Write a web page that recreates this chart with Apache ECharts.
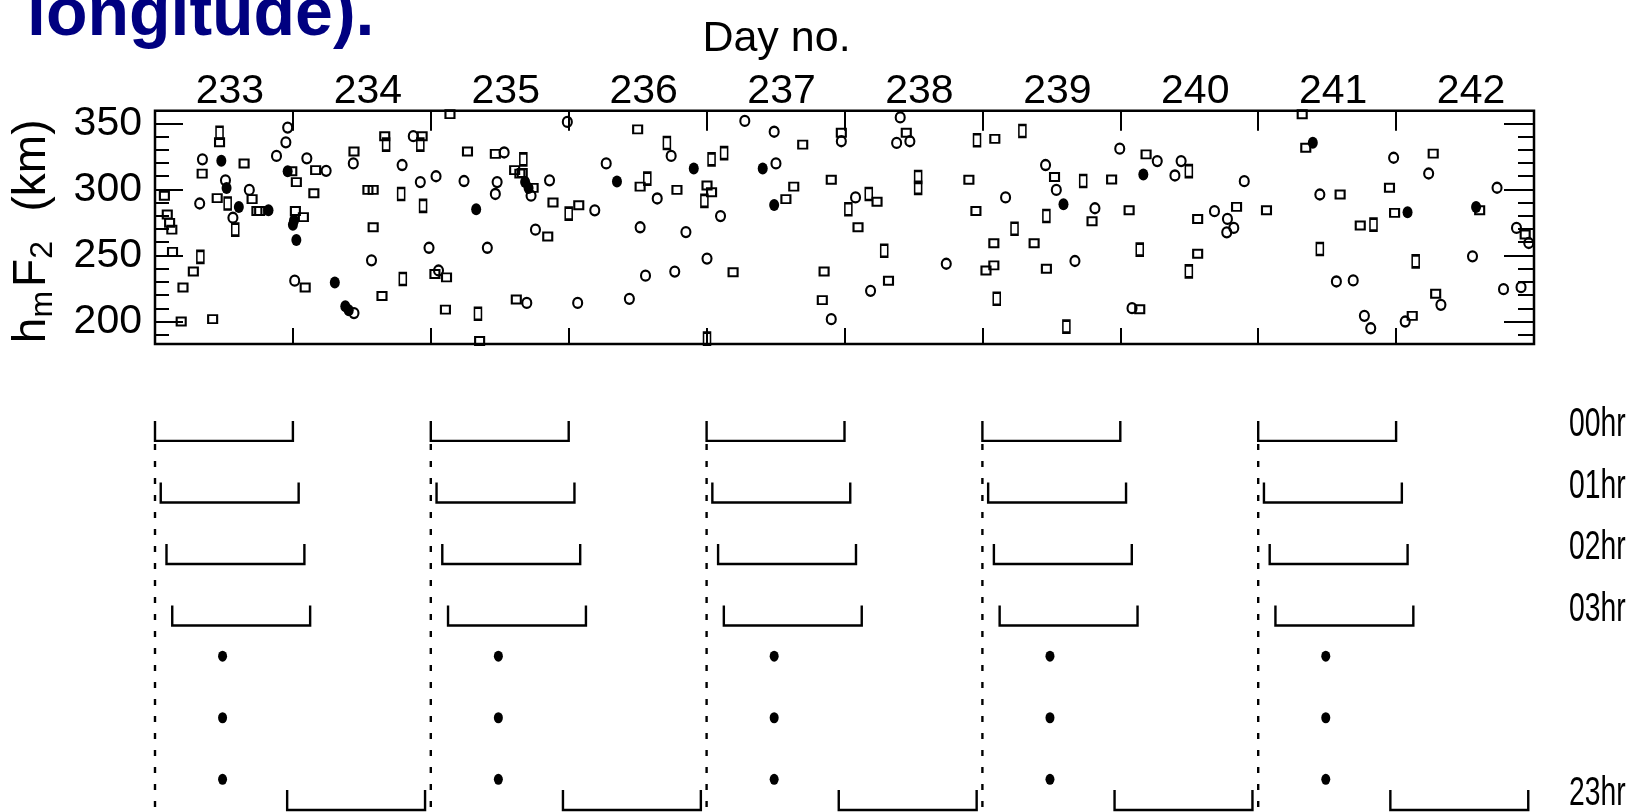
<!DOCTYPE html>
<html><head><meta charset="utf-8">
<script src="https://cdn.jsdelivr.net/npm/echarts@6/dist/echarts.min.js"></script>
<style>html,body{margin:0;padding:0;background:#fff}#c{width:1631px;height:812px}</style>
</head><body><div id="c"></div>
<script>
// ---- data ----
const dayLabels = ['233','234','235','236','237','238','239','240','241','242'];
const yMajor = [200, 250, 300, 350];
const yMinor = [190,200,210,220,230,240,250,260,270,280,290,300,310,320,330,340,350];

const hmSquares = [[233.068,295.2],[233.089,281.0],[233.106,274.6],[233.122,269.5],[233.127,252.7],[233.203,225.7],[233.278,237.8],[233.190,200.0],[233.418,201.8],[233.342,311.9],[233.451,293.4],[233.468,335.6],[233.646,319.6],[233.704,292.6],[233.739,283.6],[233.759,283.6],[233.992,313.7],[234.025,305.5],[234.152,297.0],[234.165,314.5],[234.018,283.6],[234.076,279.0],[234.089,225.7],[234.443,328.6],[234.544,299.6],[234.582,299.6],[234.582,271.3],[234.646,219.3],[234.666,340.2],[234.937,340.2],[235.030,236.0],[235.114,233.4],[235.106,209.0],[235.139,356.9],[235.266,328.6],[235.354,185.3],[235.468,326.8],[235.608,314.5],[235.646,311.9],[235.663,312.4],[235.742,301.1],[235.620,216.7],[235.848,264.3],[235.886,290.0],
[236.073,288.0],[236.500,345.4],[236.518,302.1],[236.785,299.6],[237.003,302.9],[237.036,297.8],[237.192,237.3],[237.575,292.6],[237.632,302.1],[237.697,333.8],[237.852,237.8],[237.839,216.2],[237.904,307.3],[237.977,342.8],[238.098,271.3],[238.236,290.6],[238.319,230.9],[238.448,342.8],[238.902,307.3],[238.953,283.6],[239.090,338.2],[239.083,259.2],[239.026,238.6],[239.083,242.5],[239.375,259.2],[239.523,309.3],[239.464,239.9],[239.795,275.9],
[239.937,307.5],[240.064,284.2],[240.187,326.5],[240.141,209.3],[240.561,277.6],[240.561,251.3],[240.843,286.7],[241.060,284.2],[241.319,356.8],[241.345,331.5],[241.594,296.1],[241.740,272.6],[241.952,301.2],[241.989,282.2],[242.117,204.3],[242.269,327.0],[242.287,221.0],[242.606,284.2],[242.936,265.8]];

const hmTall = [[233.329,248.9],[233.468,342.8],[233.527,289.3],[233.582,269.5],[234.676,333.8],[234.785,296.5],[234.797,232.2],[234.924,333.8],[234.944,287.5],[235.342,205.9],[235.671,322.7],
[236.000,281.6],[236.570,308.1],[236.712,335.1],[236.984,291.3],[237.036,322.7],[237.127,327.4],[237.003,187.1],[238.028,284.9],[238.176,296.5],[238.288,253.5],[238.534,309.3],[238.534,301.1],[238.961,337.1],[239.104,217.2],[239.233,270.2],[239.290,344.1],[239.464,279.8],[239.609,196.1],[239.731,306.3],
[240.141,254.4],[240.497,313.8],[240.497,237.9],[241.447,254.9],[241.836,273.3],[242.142,245.5]];

const hmRings = [[233.324,289.3],[233.344,322.7],[233.511,306.8],[233.565,278.5],[233.684,299.6],[233.881,325.3],[233.949,335.6],[233.962,346.7],[234.101,323.5],[234.241,314.0],[234.013,230.9],[234.443,206.4],[234.438,319.6],[234.570,246.3],[234.792,318.4],[234.873,340.2],[234.924,305.5],[234.987,255.8],[235.038,309.9],[235.056,238.6],[235.241,306.3],[235.410,255.8],[235.532,327.9],[235.481,305.5],[235.468,296.5],[235.727,295.2],[235.696,214.1],[235.759,269.5],[235.861,306.8],
[235.990,351.0],[236.065,214.1],[236.189,284.1],[236.272,319.6],[236.440,217.2],[236.518,271.3],[236.557,234.7],[236.642,293.1],[236.743,325.3],[236.769,237.8],[236.850,267.7],[237.003,247.6],[237.101,279.8],[237.277,351.8],[237.490,343.6],[237.503,319.6],[237.904,201.8],[237.977,336.4],[238.080,293.9],[238.189,223.2],[238.404,354.4],[238.378,335.1],[238.474,336.4],[238.738,243.7],[239.168,293.9],[239.458,318.4],[239.536,299.6],[239.671,245.8],[239.816,285.7],
[239.996,330.8],[240.268,321.4],[240.085,210.1],[240.396,310.5],[240.441,321.4],[240.683,283.5],[240.777,277.6],[240.772,267.5],[240.823,270.8],[240.899,306.2],[241.447,296.1],[241.567,230.3],[241.689,231.1],[241.770,204.3],[241.816,194.9],[241.982,323.9],[242.066,200.0],[242.236,312.0],[242.325,212.6],[242.554,249.3],[242.732,301.2],[242.779,224.5],[242.873,270.8],[242.962,259.4],[242.906,226.0]];

const hmFilled = [[233.481,321.7],[233.519,301.1],[233.608,286.7],[233.823,284.1],[233.962,313.7],[234.000,273.3],[234.008,276.4],[234.025,261.7],[234.304,229.6],[234.380,211.6],[234.405,208.5],[235.329,284.9],[235.684,305.5],[235.709,301.1],
[236.350,306.0],[236.907,315.8],[237.407,315.8],[237.490,288.2],[239.588,288.8],
[240.167,311.3],[241.396,335.3],[242.083,282.7],[242.580,286.7]];

// lower schematic: one-day windows shifted hour by hour
const windowStarts = [233, 235, 237, 239, 241];
const windowHours  = [0, 1, 2, 3, 23];
const windowRows   = [0, 1, 2, 3, 6];
const hourLabels   = ['00hr', '01hr', '02hr', '03hr', '23hr'];
const ellipsisRows = [3.5, 4.5, 5.5];
const ellipsisDayOffset = 0.49;
const guideBottomRow = 6.05;

// ---- build series data ----
const bracketData = [];
windowRows.forEach((r, i) => {
  windowStarts.forEach(d => {
    bracketData.push([d + windowHours[i] / 24, d + 1 + windowHours[i] / 24, r]);
  });
});
const guideData = windowStarts.map(d => [d, 0, guideBottomRow]);
const dotData = [];
ellipsisRows.forEach(r => windowStarts.forEach(d => dotData.push([d + ellipsisDayOffset, r])));
const hrLabelData = windowRows.map((r, i) => [243, r, i]);

const FONT = "'Liberation Sans', Arial, Helvetica, sans-serif";
const FS = 41;

const chart = echarts.init(document.getElementById('c'), null, { renderer: 'canvas' });
chart.setOption({
  animation: false,
  backgroundColor: '#fff',
  textStyle: { fontFamily: FONT },
  graphic: [{
    type: 'text', left: 27, top: -18,
    style: { text: 'longitude).', font: "bold 68px 'Liberation Sans', Arial, sans-serif", fill: '#000080' }
  }],
  grid: [
    { left: 155, right: 97, top: 110.7, bottom: 468, show: true, borderColor: '#000', borderWidth: 2.5, backgroundColor: 'transparent' },
    { left: 155, right: 97, top: 404, bottom: 0 }
  ],
  xAxis: [
    { type: 'value', gridIndex: 0, position: 'bottom', min: 233, max: 243, interval: 1,
      axisLine: { show: false }, splitLine: { show: false },
      axisTick: { show: true, inside: true, length: 16, lineStyle: { color: '#000', width: 2 } },
      axisLabel: { show: false } },
    { type: 'category', gridIndex: 0, position: 'top', data: dayLabels, boundaryGap: true,
      axisLine: { show: false }, splitLine: { show: false },
      axisTick: { show: true, inside: true, length: 20, interval: 0, lineStyle: { color: '#000', width: 2 } },
      axisLabel: { show: true, interval: 0, fontSize: FS, color: '#000', margin: 19, verticalAlign: 'middle', padding: [0, 0, 0, 12], fontFamily: FONT },
      name: 'Day no.', nameLocation: 'middle', nameGap: 72,
      nameTextStyle: { fontSize: 43, color: '#000', verticalAlign: 'middle', padding: [0, 136, 0, 0], fontFamily: FONT } },
    { type: 'value', gridIndex: 1, min: 233, max: 243, show: false }
  ],
  yAxis: [
    { type: 'value', gridIndex: 0, position: 'left', min: 183, max: 359.5,
      axisLine: { show: false }, splitLine: { show: false },
      axisTick: { show: true, inside: true, length: 28, customValues: yMajor, lineStyle: { color: '#000', width: 2 } },
      axisLabel: { show: true, customValues: yMajor, fontSize: FS, color: '#000', margin: 13, fontFamily: FONT },
      name: '{a|h}{s|m}{a|F}{s|2}{e|  (km)}', nameLocation: 'middle', nameRotate: 90, nameGap: 123,
      nameTextStyle: {
        verticalAlign: 'middle', align: 'center',
        rich: {
          a: { fontSize: 46, lineHeight: 46, verticalAlign: 'top', color: '#000', fontFamily: FONT },
          e: { fontSize: 46, lineHeight: 46, verticalAlign: 'top', color: '#000', fontFamily: FONT, padding: [0, 8, 0, 0] },
          s: { fontSize: 32, lineHeight: 32, verticalAlign: 'top', padding: [18, 4, 0, 0], color: '#000', fontFamily: FONT }
        }
      } },
    { type: 'value', gridIndex: 0, position: 'left', min: 183, max: 359.5,
      axisLine: { show: false }, splitLine: { show: false },
      axisTick: { show: true, inside: true, length: 14, customValues: yMinor, lineStyle: { color: '#000', width: 2 } },
      axisLabel: { show: false } },
    { type: 'value', gridIndex: 0, position: 'right', min: 183, max: 359.5,
      axisLine: { show: false }, splitLine: { show: false },
      axisTick: { show: true, inside: true, length: 30, customValues: yMajor, lineStyle: { color: '#000', width: 2 } },
      axisLabel: { show: false } },
    { type: 'value', gridIndex: 0, position: 'right', min: 183, max: 359.5,
      axisLine: { show: false }, splitLine: { show: false },
      axisTick: { show: true, inside: true, length: 16, customValues: yMinor, lineStyle: { color: '#000', width: 2 } },
      axisLabel: { show: false } },
    { type: 'value', gridIndex: 1, min: -0.6, max: 6.032, inverse: true, show: false }
  ],
  series: [
    { name: 'hmF2 square', type: 'scatter', xAxisIndex: 0, yAxisIndex: 0, data: hmSquares,
      symbol: 'rect', symbolSize: [9, 8],
      itemStyle: { color: 'rgba(0,0,0,0)', borderColor: '#000', borderWidth: 2, opacity: 1 } },
    { name: 'hmF2 tall', type: 'scatter', xAxisIndex: 0, yAxisIndex: 0, data: hmTall,
      symbol: 'rect', symbolSize: [7, 12],
      itemStyle: { color: 'rgba(0,0,0,0)', borderColor: '#000', borderWidth: 2, opacity: 1 } },
    { name: 'hmF2 ring', type: 'scatter', xAxisIndex: 0, yAxisIndex: 0, data: hmRings,
      symbol: 'circle', symbolSize: [9, 10],
      itemStyle: { color: 'rgba(0,0,0,0)', borderColor: '#000', borderWidth: 2.2, opacity: 1 } },
    { name: 'hmF2 filled', type: 'scatter', xAxisIndex: 0, yAxisIndex: 0, data: hmFilled,
      symbol: 'circle', symbolSize: [10, 12],
      itemStyle: { color: '#000', opacity: 1 } },
    { name: 'guides', type: 'custom', xAxisIndex: 2, yAxisIndex: 4, data: guideData,
      encode: { x: 0, y: [1, 2] },
      renderItem: (params, api) => {
        const a = api.coord([api.value(0), api.value(1)]);
        const b = api.coord([api.value(0), api.value(2)]);
        return { type: 'line', shape: { x1: a[0], y1: a[1], x2: b[0], y2: b[1] },
          style: { stroke: '#000', lineWidth: 2.4, lineDash: [6, 11], lineDashOffset: -3 } };
      } },
    { name: 'windows', type: 'custom', xAxisIndex: 2, yAxisIndex: 4, data: bracketData,
      encode: { x: [0, 1], y: 2 },
      renderItem: (params, api) => {
        const p0 = api.coord([api.value(0), api.value(2)]);
        const p1 = api.coord([api.value(1), api.value(2)]);
        const h = 20;
        return { type: 'polyline',
          shape: { points: [[p0[0], p0[1] - h], [p0[0], p0[1]], [p1[0], p1[1]], [p1[0], p1[1] - h]] },
          style: { stroke: '#000', lineWidth: 2.4, fill: null } };
      } },
    { name: 'ellipsis', type: 'scatter', xAxisIndex: 2, yAxisIndex: 4, data: dotData,
      symbol: 'circle', symbolSize: [9, 11], itemStyle: { color: '#000', opacity: 1 } },
    { name: 'hour labels', type: 'custom', xAxisIndex: 2, yAxisIndex: 4, data: hrLabelData,
      encode: { x: 0, y: 1 }, clip: false, silent: true,
      renderItem: (params, api) => {
        const p = api.coord([api.value(0), api.value(1)]);
        return { type: 'text', x: p[0] + 35, y: p[1] - 16, scaleX: 0.69,
          style: { text: hourLabels[api.value(2)], font: "41px 'Liberation Sans', Arial, sans-serif",
            fill: '#000', align: 'left', verticalAlign: 'middle' } };
      } }
  ]
});
</script></body></html>
